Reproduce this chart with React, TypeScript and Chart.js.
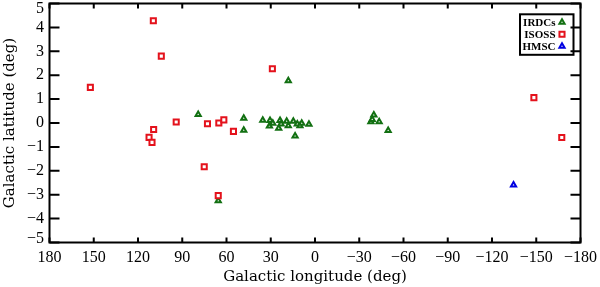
import React, { useEffect, useRef } from "react";
import { Chart, registerables } from "chart.js";

Chart.register(...registerables);

// IRDCs (Galactic longitude, latitude in deg)
const irdcLon = [18.1, 79.2, 48.3, 48.3, 35.4, 30.5, 30.9, 28.6, 24.6, 23.7, 23.0, 19.2, 18.1, 14.7, 13.5, 12.0, 10.2, 9.0, 4.1, -39.9, -37.9, -43.5, -49.6, 65.6, -38.8];
const irdcLat = [1.77, 0.36, 0.2, -0.3, 0.12, 0.1, -0.13, -0.01, -0.22, 0.1, -0.04, 0.07, -0.11, 0.07, -0.54, -0.04, -0.11, -0.01, -0.05, 0.33, 0.05, 0.05, -0.31, -3.25, 0.15];

// ISOSS
const isossLon = [152.3, 109.6, 104.2, 94.1, 72.9, 65.2, 61.8, 55.3, 109.4, 112.5, 110.5, 28.9, 75.1, 65.6, -148.4, -167.3];
const isossLat = [1.49, 4.28, 2.8, 0.04, -0.03, 0.0, 0.13, -0.35, -0.27, -0.6, -0.81, 2.27, -1.83, -3.04, 1.06, -0.61];

// HMSC
const hmscLon = [-134.6];
const hmscLat = [-2.59];

const xTicks = [180, 150, 120, 90, 60, 30, 0, -30, -60, -90, -120, -150, -180];
const yTicks = [-5, -4, -3, -2, -1, 0, 1, 2, 3, 4, 5];

const seriesNames = ["IRDCs", "ISOSS", "HMSC"];

const RED = "rgb(228,18,28)";
const GREEN = "rgb(18,112,18)";
const BLUE = "rgb(0,0,225)";

const toPoints = (xs: number[], ys: number[]) => xs.map((x, i) => ({ x, y: ys[i] }));
const fmt = (v: number) => (v < 0 ? "\u2212" + Math.abs(v) : String(v));

function drawMarker(ctx: CanvasRenderingContext2D, kind: string, x: number, y: number, color: string) {
  ctx.save();
  ctx.lineWidth = 2;
  ctx.strokeStyle = color;
  ctx.fillStyle = "#fff";
  ctx.beginPath();
  if (kind === "rect") {
    const s = 3.6 * Math.SQRT1_2;
    ctx.rect(x - s, y - s, 2 * s, 2 * s);
  } else {
    const r = 3;
    for (let k = 0; k < 3; k++) {
      const a = -Math.PI / 2 + (k * 2 * Math.PI) / 3;
      const px = x + r * Math.cos(a);
      const py = y + r * Math.sin(a);
      if (k === 0) ctx.moveTo(px, py);
      else ctx.lineTo(px, py);
    }
    ctx.closePath();
  }
  ctx.fill();
  ctx.stroke();
  ctx.restore();
}

// keep the outermost y labels inside the frame, as the original does
const labelShiftPlugin = {
  id: "labelShift",
  beforeDraw(chart: any) {
    const ys = chart.scales.y;
    const items = ys.getLabelItems(chart.chartArea);
    if (!items || !items.length) return;
    const a = chart.chartArea;
    for (const it of items) {
      const t = it.options && it.options.translation;
      if (!t) continue;
      if (Math.abs(t[1] - a.top) < 1 && !it._shifted) {
        t[1] += 5;
        it._shifted = true;
      } else if (Math.abs(t[1] - a.bottom) < 1 && !it._shifted) {
        t[1] -= 3.5;
        it._shifted = true;
      }
    }
  },
};

const legendPlugin = {
  id: "customLegend",
  afterDatasetsDraw(chart: any) {
    const ctx: CanvasRenderingContext2D = chart.ctx;
    const a = chart.chartArea;
    const boxRight = a.right - 7;
    const boxLeft = boxRight - 53.5;
    const boxTop = a.top + 10.8;
    const boxBottom = boxTop + 40.5;
    ctx.save();
    ctx.fillStyle = "#fff";
    ctx.fillRect(boxLeft, boxTop, boxRight - boxLeft, boxBottom - boxTop);
    ctx.lineWidth = 2;
    ctx.strokeStyle = "#000";
    ctx.strokeRect(boxLeft, boxTop, boxRight - boxLeft, boxBottom - boxTop);
    ctx.font = "bold 11px 'Liberation Serif'";
    ctx.fillStyle = "#000";
    ctx.textAlign = "right";
    ctx.textBaseline = "middle";
    const kinds = ["triangle", "rect", "triangle"];
    const colors = [GREEN, RED, BLUE];
    seriesNames.forEach((name, i) => {
      const yy = boxTop + 8 + i * 12;
      ctx.fillText(name, boxRight - 18, yy + 0.5);
      drawMarker(ctx, kinds[i], boxRight - 11.5, yy, colors[i]);
    });
    ctx.restore();
  },
};

const framePlugin = {
  id: "frame",
  afterDraw(chart: any) {
    const ctx: CanvasRenderingContext2D = chart.ctx;
    const a = chart.chartArea;
    const xs = chart.scales.x;
    const ys = chart.scales.y;
    ctx.save();
    ctx.strokeStyle = "#000";
    ctx.lineWidth = 2;
    ctx.strokeRect(a.left, a.top, a.right - a.left, a.bottom - a.top);
    ctx.beginPath();
    for (const t of xTicks) {
      const px = xs.getPixelForValue(t);
      ctx.moveTo(px, a.bottom);
      ctx.lineTo(px, a.bottom - 5);
      ctx.moveTo(px, a.top);
      ctx.lineTo(px, a.top + 5);
    }
    for (const t of yTicks) {
      const py = ys.getPixelForValue(t);
      ctx.moveTo(a.left, py);
      ctx.lineTo(a.left + 10, py);
      ctx.moveTo(a.right, py);
      ctx.lineTo(a.right - 10, py);
    }
    ctx.stroke();
    ctx.restore();
  },
};

export default function App() {
  const ref = useRef<HTMLCanvasElement>(null);
  useEffect(() => {
    if (!ref.current) return;
    const chart = new Chart(ref.current, {
      type: "scatter",
      data: {
        datasets: [
          {
            label: seriesNames[0],
            data: toPoints(irdcLon, irdcLat),
            pointStyle: "triangle",
            radius: 3,
            borderWidth: 2,
            borderColor: GREEN,
            backgroundColor: "#fff",
            order: 1,
          },
          {
            label: seriesNames[1],
            data: toPoints(isossLon, isossLat),
            pointStyle: "rect",
            radius: 3.6,
            borderWidth: 2,
            borderColor: RED,
            backgroundColor: "#fff",
            order: 0,
          },
          {
            label: seriesNames[2],
            data: toPoints(hmscLon, hmscLat),
            pointStyle: "triangle",
            radius: 3,
            borderWidth: 2,
            borderColor: BLUE,
            backgroundColor: "#fff",
            order: 2,
          },
        ],
      },
      options: {
        animation: false,
        responsive: false,
        events: [],
        layout: { autoPadding: false, padding: { top: 3.5, right: 19.5, left: 0, bottom: 0 } },
        plugins: { legend: { display: false }, tooltip: { enabled: false } },
        scales: {
          x: {
            type: "linear",
            min: -180,
            max: 180,
            reverse: true,
            grid: { display: false, drawTicks: false },
            border: { display: false },
            afterBuildTicks: (s: any) => {
              s.ticks = xTicks.map((v) => ({ value: v }));
            },
            afterFit: (s: any) => {
              s.height = 44.5;
              s.paddingLeft = 0;
              s.paddingRight = 0;
            },
            ticks: {
              padding: 6,
              color: "#000",
              maxRotation: 0,
              autoSkip: false,
              font: { family: "'Liberation Serif'", size: 16 },
              callback: (v: any) => fmt(Number(v)),
            },
            title: {
              display: true,
              text: "Galactic longitude (deg)",
              color: "#000",
              font: { family: "'DejaVu Serif'", size: 15 },
              padding: { top: 0, bottom: 1 },
            },
          },
          y: {
            type: "linear",
            min: -5,
            max: 5,
            grid: { display: false, drawTicks: false },
            border: { display: false },
            afterBuildTicks: (s: any) => {
              s.ticks = yTicks.map((v) => ({ value: v }));
            },
            afterFit: (s: any) => {
              s.width = 49.5;
              s.paddingTop = 0;
              s.paddingBottom = 0;
            },
            ticks: {
              padding: 5.5,
              color: "#000",
              autoSkip: false,
              font: { family: "'Liberation Serif'", size: 16 },
              callback: (v: any) => fmt(Number(v)),
            },
            title: {
              display: true,
              text: "Galactic latitude (deg)",
              color: "#000",
              font: { family: "'DejaVu Serif'", size: 15 },
              padding: { top: 1, bottom: 0 },
            },
          },
        },
      },
      plugins: [labelShiftPlugin, legendPlugin, framePlugin],
    } as any);
    return () => chart.destroy();
  }, []);
  return (
    <div style={{ position: "fixed", left: 0, top: 0, width: 600, height: 287, background: "#fff" }}>
      <canvas ref={ref} width={600} height={287} style={{ display: "block", width: 600, height: 287 }} />
    </div>
  );
}
